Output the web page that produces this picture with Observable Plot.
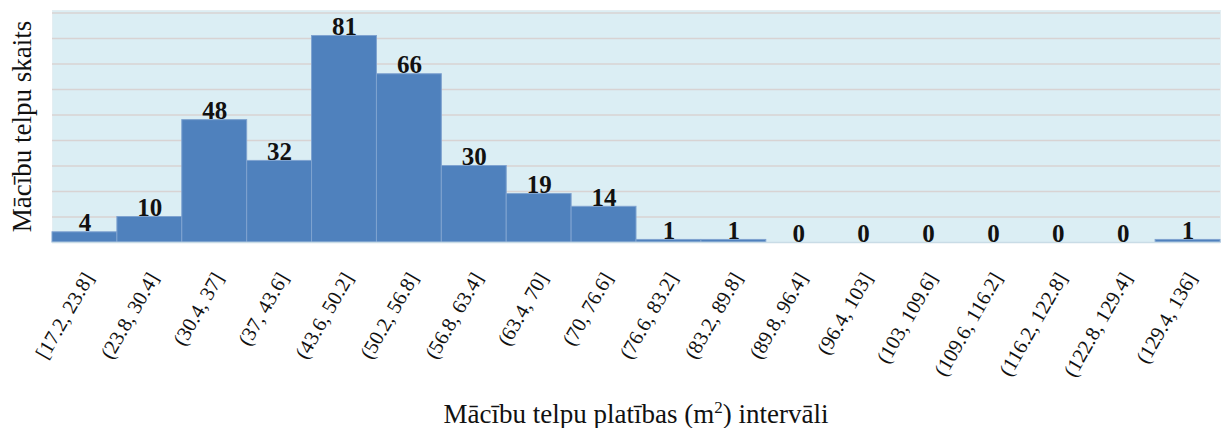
<!DOCTYPE html>
<html>
<head>
<meta charset="utf-8">
<script src="https://cdn.jsdelivr.net/npm/d3@7"></script>
<script src="https://cdn.jsdelivr.net/npm/@observablehq/plot@0.6"></script>
<style>
  html, body { margin: 0; padding: 0; background: #fff; }
  #wrap { width: 1222px; font-family: "Liberation Serif", "Times New Roman", serif; }
  #chart svg { display: block; }
  #xtitle { text-align: center; font-size: 27px; line-height: 30px; color: #111; padding-left: 52px; padding-right: 2px; margin-top: 14px; }
  #xtitle sup { font-size: 17px; line-height: 0; }
</style>
</head>
<body>
<div id="wrap">
  <div id="chart"></div>
  <div id="xtitle">Mācību telpu platības (m<sup>2</sup>) intervāli</div>
</div>
<script>
const intervals = ["[17.2, 23.8]", "(23.8, 30.4]", "(30.4, 37]", "(37, 43.6]", "(43.6, 50.2]", "(50.2, 56.8]", "(56.8, 63.4]", "(63.4, 70]", "(70, 76.6]", "(76.6, 83.2]", "(83.2, 89.8]", "(89.8, 96.4]", "(96.4, 103]", "(103, 109.6]", "(109.6, 116.2]", "(116.2, 122.8]", "(122.8, 129.4]", "(129.4, 136]"];
const counts = [4, 10, 48, 32, 81, 66, 30, 19, 14, 1, 1, 0, 0, 0, 0, 0, 0, 1];
const gridTicks = [10, 20, 30, 40, 50, 60, 70, 80, 90];
const yTitle = "Mācību telpu skaits";

const data = intervals.map((k, i) => ({interval: k, count: counts[i]}));
const serif = "'Liberation Serif', 'Times New Roman', serif";

const chart = Plot.plot({
  width: 1222,
  height: 385,
  marginLeft: 52,
  marginRight: 2,
  marginTop: 10,
  marginBottom: 143,
  style: {fontFamily: serif, background: "transparent", color: "#111"},
  x: {domain: intervals, padding: 0, round: false, label: null, axis: null},
  y: {domain: [0, 91], axis: null},
  marks: [
    Plot.frame({fill: "#DBEEF4", stroke: "#E3EEF2"}),
    Plot.ruleY(gridTicks, {stroke: "#D8D3D3", strokeWidth: 1.5}),
    Plot.barY(data, {x: "interval", y: "count", fill: "#4F81BD", stroke: "#7FA3D0", strokeWidth: 1}),
    Plot.ruleY([0], {stroke: "#C9DCE6", strokeWidth: 1.5}),
    Plot.text(data, {x: "interval", y: "count", text: d => String(d.count), lineAnchor: "bottom", dy: -1, fontSize: 25, fontWeight: "bold", fill: "#111"}),
    Plot.text(intervals, {x: d => d, text: d => d, frameAnchor: "bottom", lineAnchor: "middle", textAnchor: "end", rotate: -60, dx: 4, dy: 32, fontSize: 20.5, fill: "#111"}),
    Plot.text([yTitle], {frameAnchor: "left", dx: -30, rotate: -90, textAnchor: "middle", fontSize: 27, fill: "#111"})
  ]
});
document.getElementById("chart").appendChild(chart);
</script>
</body>
</html>
